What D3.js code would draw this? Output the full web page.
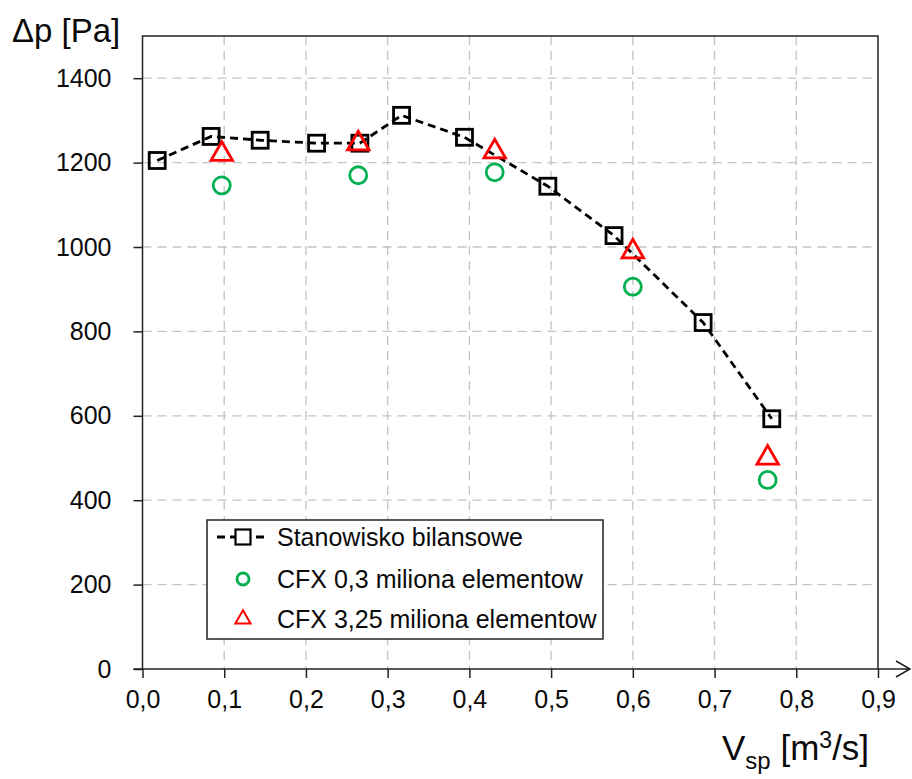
<!DOCTYPE html>
<html>
<head>
<meta charset="utf-8">
<script src="https://cdn.jsdelivr.net/npm/d3@7"></script>
<style>
  body { margin: 0; background: #fff; }
  text { font-family: "Liberation Sans", Arial, sans-serif; fill: #0a0a0a; }
</style>
</head>
<body>
<div id="chart-area"></div>
<script>
// Stanowisko bilansowe (measured)
const benchQ  = [0.018, 0.084, 0.144, 0.213, 0.266, 0.317, 0.394, 0.496, 0.577, 0.686, 0.770];
const benchDp = [1205, 1262, 1253, 1246, 1246, 1312, 1260, 1144, 1027, 821, 593];
// CFX 0,3 miliona elementow
const cfxSmallQ  = [0.097, 0.264, 0.431, 0.600, 0.765];
const cfxSmallDp = [1146, 1170, 1177, 906, 448];
// CFX 3,25 miliona elementow
const cfxBigQ  = [0.097, 0.264, 0.431, 0.600, 0.765];
const cfxBigDp = [1220, 1245, 1226, 989, 500];

const xTicks = [0, 0.1, 0.2, 0.3, 0.4, 0.5, 0.6, 0.7, 0.8, 0.9];
const yTicks = [0, 200, 400, 600, 800, 1000, 1200, 1400];
const legendLabels = ["Stanowisko bilansowe", "CFX 0,3 miliona elementow", "CFX 3,25 miliona elementow"];

const W = 912, H = 779;
const M = {left: 142.5, right: 878, top: 36, bottom: 669};

const svg = d3.select("#chart-area").append("svg")
    .attr("width", W)
    .attr("height", H);

const x = d3.scaleLinear().domain([0, 0.9]).range([M.left, M.right]);
const y = d3.scaleLinear().domain([0, 1500]).range([M.bottom, M.top]);

const fmtX = d => d.toFixed(1).replace(".", ",");

// grid
svg.append("g").selectAll("line")
    .data(xTicks.slice(1, -1))
    .enter().append("line")
    .attr("x1", d => x(d)).attr("x2", d => x(d))
    .attr("y1", M.top).attr("y2", M.bottom)
    .attr("stroke", "#c4c4c4").attr("stroke-width", 1.3)
    .attr("stroke-dasharray", "9,6");

svg.append("g").selectAll("line")
    .data(yTicks.slice(1))
    .enter().append("line")
    .attr("x1", M.left).attr("x2", M.right)
    .attr("y1", d => y(d)).attr("y2", d => y(d))
    .attr("stroke", "#c4c4c4").attr("stroke-width", 1.3)
    .attr("stroke-dasharray", "9,6");

// axes
const gy = svg.append("g")
    .attr("transform", `translate(${M.left},0)`)
    .call(d3.axisLeft(y).tickValues(yTicks).tickSize(9).tickPadding(22).tickFormat(d3.format("d")));
const gx = svg.append("g")
    .attr("transform", `translate(0,${M.bottom})`)
    .call(d3.axisBottom(x).tickValues(xTicks).tickSize(9).tickPadding(12).tickFormat(fmtX));

[gy, gx].forEach(g => {
  g.select(".domain").remove();
  g.selectAll(".tick line").attr("stroke", "#222").attr("stroke-width", 1.5);
  g.selectAll(".tick text").style("font-size", "25px").style("font-family", "Liberation Sans, Arial, sans-serif").attr("fill", "#0a0a0a");
});

// frame
svg.append("path")
    .attr("d", `M${M.left},${M.bottom}V${M.top}H${M.right}V${M.bottom}`)
    .attr("fill", "none").attr("stroke", "#222").attr("stroke-width", 1.5);
// x axis with arrow
svg.append("path")
    .attr("d", `M${M.left - 9},${M.bottom}H${W - 2}M${W - 16},${M.bottom - 8}L${W - 2},${M.bottom}L${W - 16},${M.bottom + 8}`)
    .attr("fill", "none").attr("stroke", "#222").attr("stroke-width", 1.5);

// axis titles
svg.append("text")
    .attr("x", 12).attr("y", 42)
    .style("font-size", "33px")
    .text("Δp [Pa]");

const xt = svg.append("text")
    .attr("x", 722).attr("y", 760)
    .style("font-size", "35px");
xt.append("tspan").text("V");
xt.append("tspan").attr("dy", 9).style("font-size", "24px").text("sp");
xt.append("tspan").attr("dy", -9).text(" [m");
xt.append("tspan").attr("dy", -12).style("font-size", "23px").text("3");
xt.append("tspan").attr("dy", 12).text("/s]");

// bench line
const bench = benchQ.map((q, i) => ({q: q, dp: benchDp[i]}));
const line = d3.line().x(d => x(d.q)).y(d => y(d.dp));
svg.append("path")
    .datum(bench)
    .attr("d", line)
    .attr("fill", "none").attr("stroke", "#000")
    .attr("stroke-width", 2.8).attr("stroke-dasharray", "8,5");

const sq = 16;
svg.append("g").selectAll("rect")
    .data(bench)
    .enter().append("rect")
    .attr("x", d => x(d.q) - sq / 2).attr("y", d => y(d.dp) - sq / 2)
    .attr("width", sq).attr("height", sq)
    .attr("fill", "none").attr("stroke", "#000").attr("stroke-width", 2.8);

// CFX 0,3 circles
svg.append("g").selectAll("circle")
    .data(cfxSmallQ.map((q, i) => ({q: q, dp: cfxSmallDp[i]})))
    .enter().append("circle")
    .attr("cx", d => x(d.q)).attr("cy", d => y(d.dp)).attr("r", 8.5)
    .attr("fill", "none").attr("stroke", "#00b050").attr("stroke-width", 2.8);

// CFX 3,25 triangles
const tri = d3.symbol().type(d3.symbolTriangle).size(200);
svg.append("g").selectAll("path")
    .data(cfxBigQ.map((q, i) => ({q: q, dp: cfxBigDp[i]})))
    .enter().append("path")
    .attr("d", tri)
    .attr("transform", d => `translate(${x(d.q)},${y(d.dp)})`)
    .attr("fill", "none").attr("stroke", "#ff0000").attr("stroke-width", 2.8);

// legend
const lg = svg.append("g");
lg.append("rect")
    .attr("x", 207).attr("y", 520).attr("width", 396).attr("height", 119)
    .attr("fill", "#fff").attr("stroke", "#222").attr("stroke-width", 1.5);
const rowY = [537, 579, 619];
lg.append("line")
    .attr("x1", 217).attr("x2", 269).attr("y1", rowY[0]).attr("y2", rowY[0])
    .attr("stroke", "#000").attr("stroke-width", 2.8).attr("stroke-dasharray", "8,5");
lg.append("rect")
    .attr("x", 243 - 7.5).attr("y", rowY[0] - 7.5).attr("width", 15).attr("height", 15)
    .attr("fill", "#fff").attr("stroke", "#000").attr("stroke-width", 2.2);
lg.append("circle")
    .attr("cx", 243).attr("cy", rowY[1]).attr("r", 6)
    .attr("fill", "none").attr("stroke", "#00b050").attr("stroke-width", 2.8);
lg.append("path")
    .attr("d", d3.symbol().type(d3.symbolTriangle).size(100))
    .attr("transform", `translate(243,${rowY[2]})`)
    .attr("fill", "none").attr("stroke", "#ff0000").attr("stroke-width", 2);
lg.selectAll("text")
    .data(legendLabels)
    .enter().append("text")
    .attr("x", 277).attr("y", (d, i) => rowY[i] + 8.5)
    .style("font-size", "25px")
    .text(d => d);
</script>
</body>
</html>
